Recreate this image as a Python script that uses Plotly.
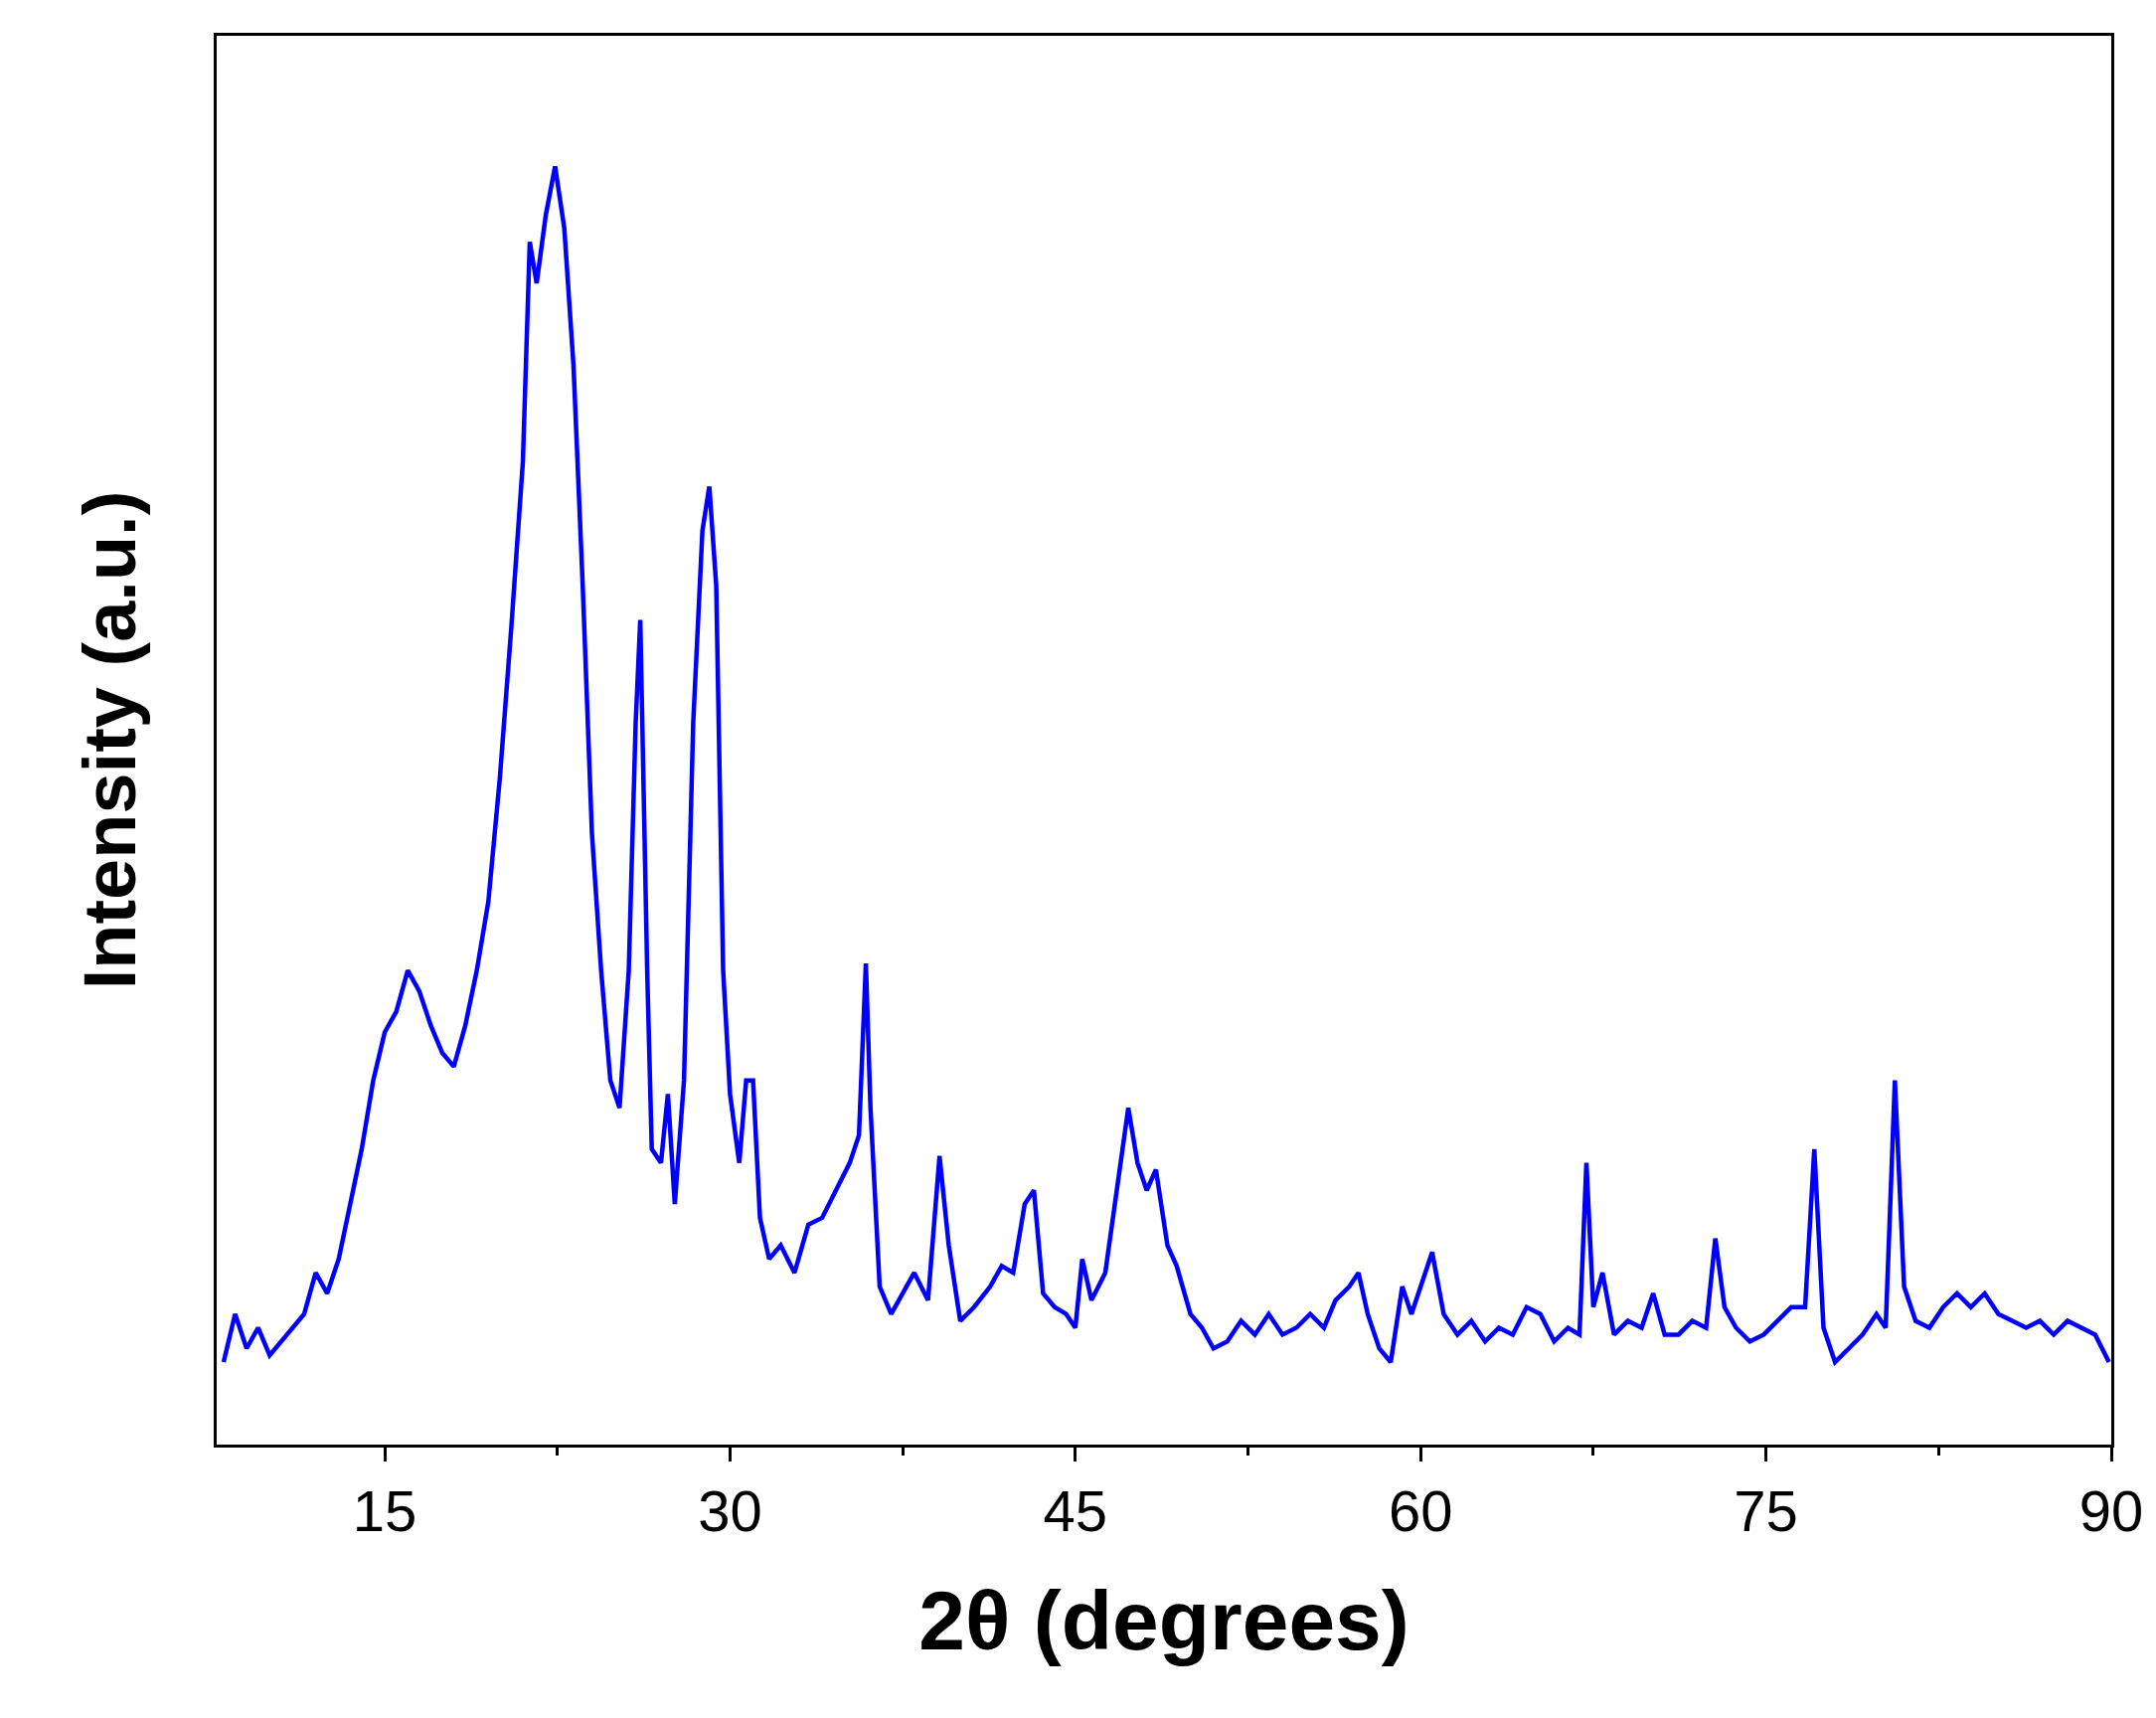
import plotly.graph_objects as go

# 2-theta positions (degrees) and intensity (a.u.)
two_theta = [8, 8.5, 9, 9.5, 10, 10.5, 11, 11.5, 12, 12.5, 13, 13.5, 14, 14.5, 15, 15.5,
             16, 16.5, 17, 17.5, 18, 18.5, 19, 19.5, 20, 20.5, 21, 21.3, 21.6, 22, 22.4,
             22.8, 23.2, 23.6, 24, 24.4, 24.8, 25.2, 25.6, 25.9, 26.1, 26.4, 26.6, 27,
             27.3, 27.6, 28, 28.4, 28.8, 29.1, 29.4, 29.7, 30, 30.4, 30.7, 31, 31.3, 31.7,
             32.2, 32.8, 33.4, 34, 34.6, 35.2, 35.6, 35.9, 36.1, 36.5, 37, 37.5, 38, 38.6,
             39.1, 39.5, 40, 40.6, 41.3, 41.8, 42.3, 42.8, 43.2, 43.6, 44.1, 44.6, 45,
             45.3, 45.7, 46.3, 46.9, 47.3, 47.7, 48.1, 48.5, 49, 49.4, 50, 50.5, 51, 51.6,
             52.2, 52.8, 53.4, 54, 54.6, 55.2, 55.8, 56.3, 56.9, 57.3, 57.7, 58.2, 58.7,
             59.2, 59.6, 60.2, 60.5, 61, 61.6, 62.2, 62.8, 63.4, 64, 64.6, 65.2, 65.8,
             66.4, 66.9, 67.2, 67.5, 67.9, 68.4, 69, 69.6, 70.1, 70.6, 71.2, 71.8, 72.4,
             72.8, 73.2, 73.7, 74.3, 74.9, 75.5, 76.1, 76.7, 77.1, 77.5, 78, 78.6, 79.2,
             79.8, 80.2, 80.6, 81, 81.5, 82.1, 82.7, 83.3, 83.9, 84.5, 85.1, 85.7, 86.3,
             86.9, 87.5, 88.1, 88.7, 89.3, 89.9]
intensity = [60, 95, 70, 85, 65, 75, 85, 95, 125, 110, 135, 175, 215, 265, 300, 315,
             345, 330, 305, 285, 275, 305, 345, 395, 485, 595, 715, 875, 845, 895, 930,
             885, 785, 625, 445, 345, 265, 245, 345, 525, 600, 345, 215, 205,
             255, 175, 265, 525, 665, 697, 625, 345, 255, 205, 265, 265, 165, 135,
             145, 125, 160, 165, 185, 205, 225, 350, 245, 115, 95, 110, 125, 105,
             210, 145, 90, 100, 115, 130, 125, 175, 185, 110, 100, 95, 85,
             135, 105, 125, 195, 245, 205, 185, 200, 145, 130, 95, 85, 70, 75,
             90, 80, 95, 80, 85, 95, 85, 105, 115, 125, 95, 70, 60,
             115, 95, 125, 140, 95, 80, 90, 75, 85, 80, 100, 95, 75,
             85, 80, 205, 100, 125, 80, 90, 85, 110, 80, 80, 90, 85,
             150, 100, 85, 75, 80, 90, 100, 100, 215, 85, 60, 70, 80,
             95, 85, 265, 115, 90, 85, 100, 110, 100, 110, 95, 90, 85,
             90, 80, 90, 85, 80, 60]

fig = go.Figure(go.Scatter(x=two_theta, y=intensity, mode="lines",
                           line=dict(color="#0000ff", width=4.5), showlegend=False))

axis_font = dict(family="Liberation Sans, Arial", size=58, color="black")
fig.update_layout(
    width=2169, height=1728, plot_bgcolor="white", paper_bgcolor="white",
    margin=dict(l=210, r=53, t=28, b=283),
    xaxis=dict(range=[7.7, 90], tickvals=[15, 30, 45, 60, 75, 90], ticks="outside",
               ticklen=14, tickwidth=3, tickcolor="black", tickfont=axis_font,
               minor=dict(tickvals=[22.5, 37.5, 52.5, 67.5, 82.5], ticks="outside",
                          ticklen=8, tickwidth=3, tickcolor="black"),
               showline=True, linewidth=3, linecolor="black", mirror=True,
               showgrid=False, zeroline=False,
               title=dict(text="<b>2θ (degrees)</b>", standoff=50,
                          font=dict(family="Liberation Sans, Arial", size=84, color="black"))),
    yaxis=dict(range=[0, 1025], showticklabels=False, ticks="",
               showline=True, linewidth=3, linecolor="black", mirror=True,
               showgrid=False, zeroline=False,
               title=dict(text="<b>Intensity (a.u.)</b>", standoff=55,
                          font=dict(family="Liberation Sans, Arial", size=74, color="black"))),
)

fig.write_html("out.html")
